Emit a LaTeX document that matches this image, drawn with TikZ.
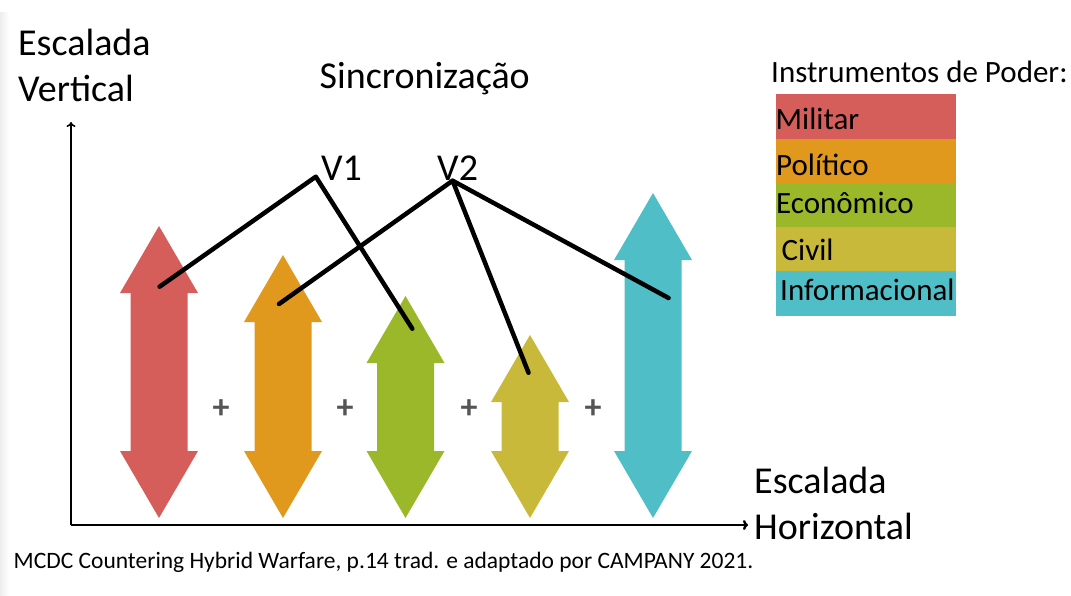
\documentclass[tikz,border=0pt]{standalone}
\usepackage{fontspec}
\setmainfont{Carlito}
\usepackage{xcolor}
\definecolor{milred}{HTML}{D55E5B}
\definecolor{polorange}{HTML}{E0991D}
\definecolor{ecogreen}{HTML}{9AB82A}
\definecolor{civolive}{HTML}{C8B93A}
\definecolor{infcyan}{HTML}{4FBEC6}
\definecolor{plusgray}{HTML}{555555}
\usetikzlibrary{positioning, arrows.meta}
\tikzset{
  bigtxt/.style={anchor=base west, inner sep=0pt, font=\fontsize{38}{45}\selectfont},
  legtxt/.style={anchor=base west, inner sep=0pt, font=\fontsize{31}{37}\selectfont},
  plustxt/.style={inner sep=0pt, text=plusgray, font=\fontsize{34}{40}\selectfont\bfseries},
  vline/.style={line width=4.5pt, line cap=round, line join=round}
}

\begin{document}
\begin{tikzpicture}[x=1pt, y=-1pt]
\useasboundingbox (0,0) rectangle (1071,595);
\shade[left color=gray!14, right color=white] (0,12) rectangle (9,595);

% eixos
\draw[line width=1.6pt, -{To[length=5pt, width=9pt]}] (71,525) -- (71,122);
\draw[line width=2.4pt, -{To[length=5pt, width=10pt]}] (71,525) -- (748,525);
\node[bigtxt] (ev1) at (18,55) {Escalada};
\node[bigtxt] (ev2) at (18,101) {Vertical};
\node[bigtxt] (eh1) at (754,493) {Escalada};
\node[bigtxt] (eh2) at (754,539) {Horizontal};
\node[bigtxt] (sinc) at (319.5,88) {Sincronização};

% setas duplas
\foreach \cx/\ty/\col in {159/226/milred, 283/255/polorange, 405.5/296/ecogreen, 530/335/civolive, 653/193/infcyan}{
\fill[\col] (\cx,\ty) -- (\cx+39,\ty+67) -- (\cx+28.5,\ty+67) -- (\cx+28.5,451) -- (\cx+39,451)
  -- (\cx,518) -- (\cx-39,451) -- (\cx-28.5,451) -- (\cx-28.5,\ty+67) -- (\cx-39,\ty+67) -- cycle;
}
\foreach \px [count=\i] in {221,345,469,593}{
\node[plustxt] (plus\i) at (\px,409) {+};
}

% vetores
\coordinate (v1) at (315.8,176.7);
\coordinate (v2) at (452.6,180.7);
\coordinate (mil) at (159.6,286.7);
\coordinate (pol) at (279,304);
\coordinate (eco) at (412.3,328.7);
\coordinate (civ) at (528.5,372.7);
\coordinate (inf) at (668.6,298);
\draw[vline] (mil) -- (v1) -- (eco);
\draw[vline] (pol) -- (v2) -- (civ);
\draw[vline] (v2) -- (inf);
\node[bigtxt] (lv1) at (321,180) {V1};
\node[bigtxt] (lv2) at (437,180) {V2};

% legenda
\node[legtxt] (inst) at (771,82) {Instrumentos de Poder:};
\foreach \ya/\yb/\col in {94/139/milred, 139/183/polorange, 183/227/ecogreen, 227/271/civolive, 271/316/infcyan}{
\fill[\col] (776,\ya) rectangle (956,\yb);
}
\node[legtxt] (lmil) at (775.5,129) {Militar};
\node[legtxt] (lpol) at (776,175) {Político};
\node[legtxt] (leco) at (776,213) {Econômico};
\node[legtxt] (lciv) at (781.5,260) {Civil};
\node[legtxt] (linf) at (780,300) {Informacional};

\node[anchor=base west, inner sep=0pt, font=\fontsize{23.5}{28}\selectfont] (fonte) at (13.5,568)
  {MCDC Countering Hybrid Warfare, p.14 trad. e adaptado por CAMPANY 2021.};
\end{tikzpicture}
\end{document}
